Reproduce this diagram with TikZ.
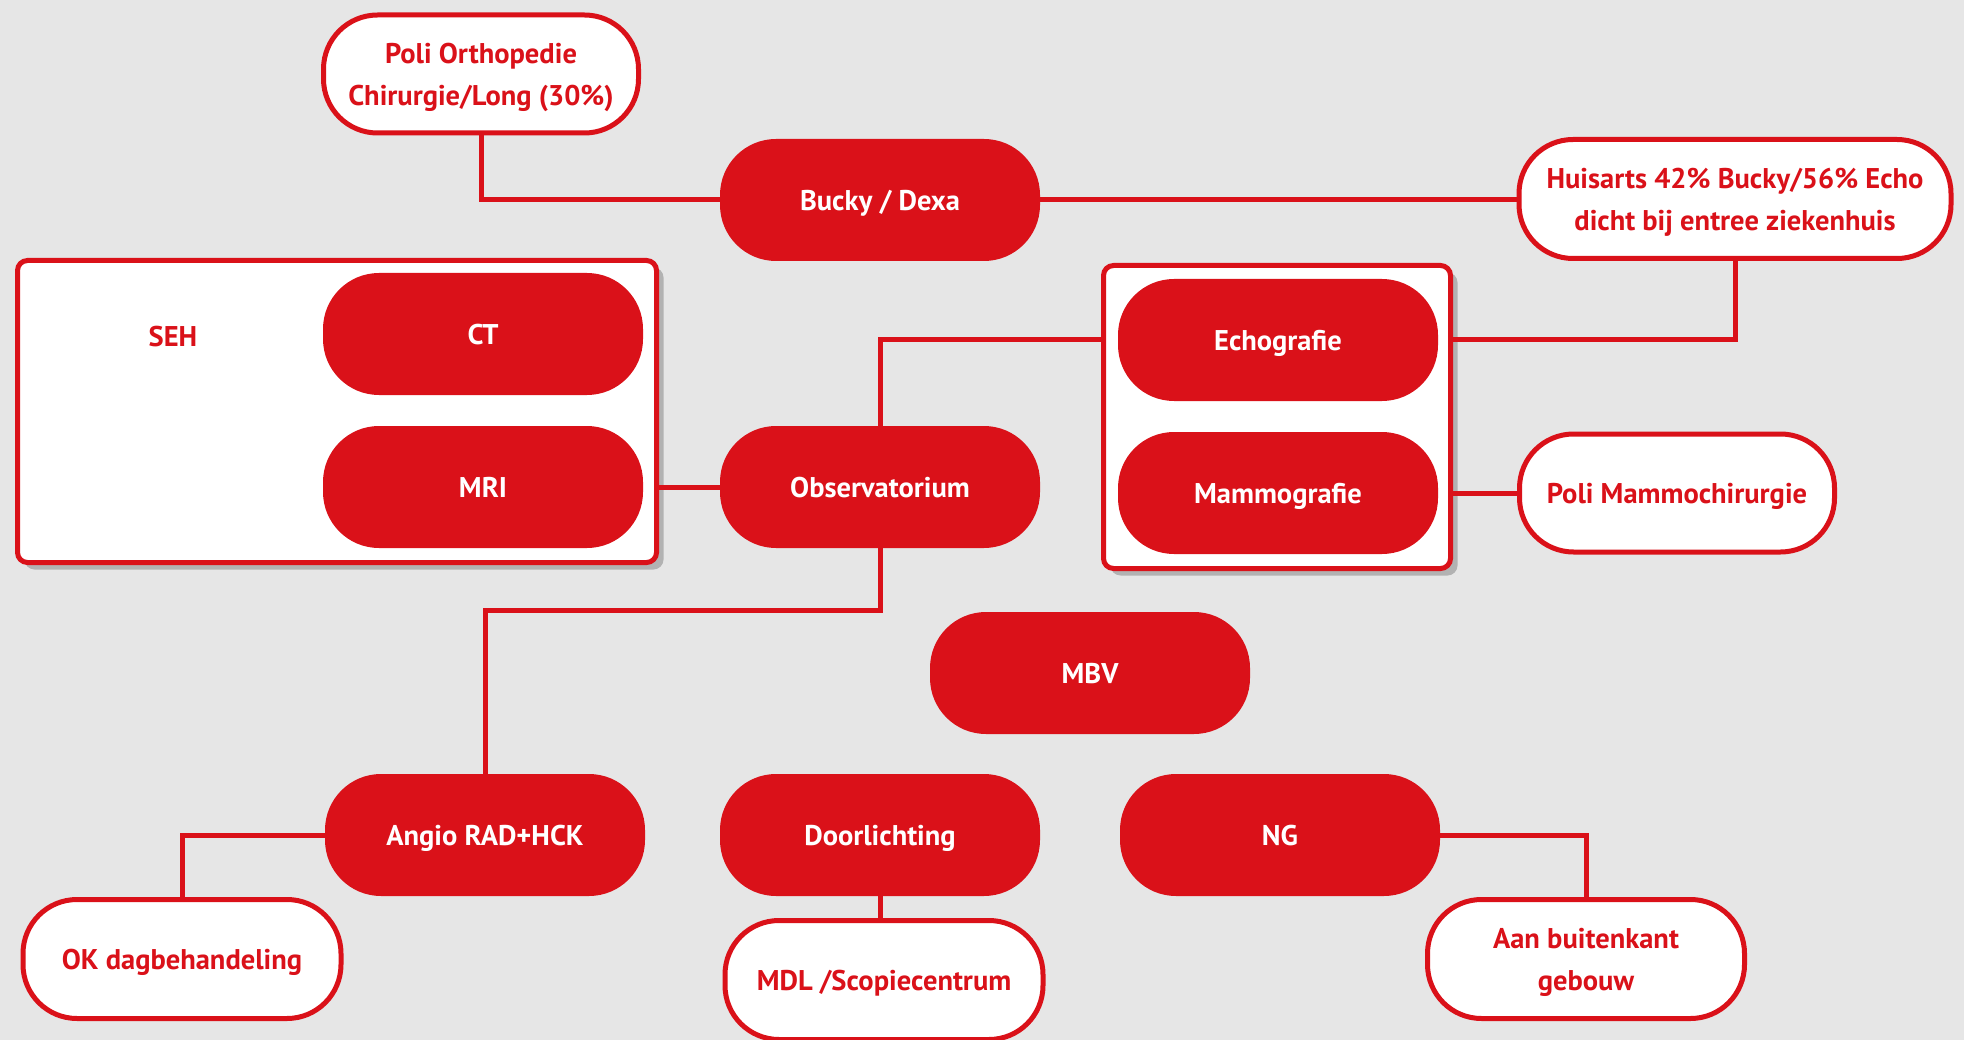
\documentclass[tikz,border=0pt]{standalone}
\usepackage{fontspec}
\setmainfont{PT Sans}
\usetikzlibrary{shadows}
\definecolor{rd}{HTML}{DA1119}
\definecolor{bg}{HTML}{E6E6E6}
\begin{document}
\begin{tikzpicture}[x=1pt,y=-1pt,
  lbl/.style={font=\fontsize{28.5}{33}\selectfont\bfseries, text depth=0pt},
  solidbox/.style={lbl, fill=rd, text=white, rounded corners=56pt, minimum width=320pt, minimum height=122pt, inner sep=0pt},
  hollowbox/.style={lbl, fill=white, draw=rd, line width=5pt, text=rd, rounded corners=54pt, minimum width=315pt, minimum height=118pt, inner sep=0pt, align=center},
  groupbox/.style={fill=white, draw=rd, line width=5pt, rounded corners=10pt, inner sep=0pt,
     drop shadow={shadow xshift=7pt, shadow yshift=-7pt, opacity=0.4, fill=black!60}},
  conn/.style={draw=rd, line width=5pt}]
\useasboundingbox (0,0) rectangle (1964,1040);
\fill[bg] (0,0) rectangle (1964,1040);

% group containers
\node[groupbox, minimum width=639pt, minimum height=302pt] (sehbox) at (337,411.5) {};
\node[groupbox, minimum width=347pt, minimum height=303pt] (echobox) at (1277,417) {};
\node[lbl, text=rd] (seh) at (173,336) {SEH};

% filled nodes
\node[solidbox] (bucky) at (880,200) {Bucky / Dexa};
\node[solidbox] (ct) at (483,334) {CT};
\node[solidbox] (mri) at (483,487) {MRI};
\node[solidbox] (obs) at (880,487) {Observatorium};
\node[solidbox] (echo) at (1278,340) {Echografie};
\node[solidbox] (mammo) at (1278,493) {Mammografie};
\node[solidbox] (mbv) at (1090,673) {MBV};
\node[solidbox] (angio) at (485,835) {Angio RAD+HCK};
\node[solidbox] (door) at (880,835) {Doorlichting};
\node[solidbox] (ng) at (1280,835) {NG};

% outlined nodes
\node[hollowbox] (ortho) at (481,74) {Poli Orthopedie\\[9pt]Chirurgie/Long (30\%)};
\node[hollowbox, minimum width=432pt, minimum height=119pt] (huis) at (1735,199) {Huisarts 42\% Bucky/56\% Echo\\[9pt]dicht bij entree ziekenhuis};
\node[hollowbox] (pmammo) at (1677,493) {Poli Mammochirurgie};
\node[hollowbox, minimum width=318pt, minimum height=119pt] (ok) at (182,959) {OK dagbehandeling};
\node[hollowbox, minimum width=318pt, minimum height=119pt] (mdl) at (884,980) {MDL /Scopiecentrum};
\node[hollowbox, minimum width=317pt, minimum height=119pt] (aan) at (1586,959) {Aan buitenkant\\[9pt]gebouw};

% connectors
\draw[conn] (ortho.south) |- (bucky.west);
\draw[conn] (bucky.east) -- (bucky.east -| huis.west);
\draw[conn] (huis.south) |- (echobox.east |- echo.east);
\draw[conn] (echobox.west |- echo.west) -| (obs.north);
\draw[conn] (sehbox.east |- mri.east) -- (obs.west);
\draw[conn] (obs.south) -- ++(0,62) -| (angio.north);
\draw[conn] (angio.west) -| (ok.north);
\draw[conn] (door.south) -- (door.south |- mdl.north);
\draw[conn] (ng.east) -| (aan.north);
\draw[conn] (echobox.east |- mammo.east) -- (pmammo.west);
\end{tikzpicture}
\end{document}
